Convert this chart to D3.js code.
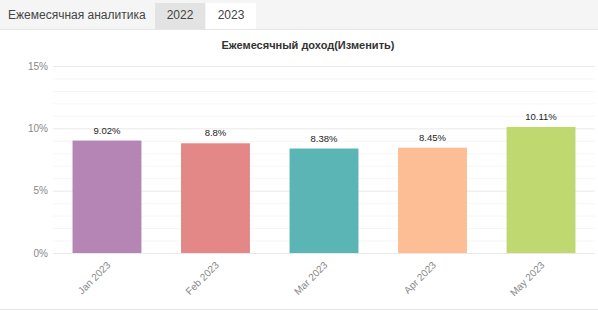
<!DOCTYPE html>
<html lang="ru">
<head>
    <meta charset="UTF-8">
    <title>Ежемесячный доход</title>
    <script src="https://d3js.org/d3.v7.min.js"></script>
    <style>
        body {
            margin: 0;
            font-family: Arial, "Liberation Sans", sans-serif;
            background: #fff;
            width: 598px;
            height: 312px;
            overflow: hidden;
        }
        .tabs {
            height: 29px;
            background: #f5f5f5;
            border-bottom: 1px solid #e6e6e6;
            position: relative;
        }
        .tab {
            position: absolute;
            top: 3px;
            height: 26px;
            line-height: 25px;
            font-size: 12px;
            color: #444;
        }
        #chart svg { display: block; }
    </style>
</head>
<body>
    <div class="tabs">
        <div class="tab" style="left:8px;">Ежемесячная аналитика</div>
        <div class="tab" style="left:155px;width:50px;background:#e3e3e3;text-align:center;">2022</div>
        <div class="tab" style="left:206px;width:50px;background:#fff;text-align:center;">2023</div>
    </div>
    <div id="chart"></div>
    <script>
        const months = ['Jan 2023', 'Feb 2023', 'Mar 2023', 'Apr 2023', 'May 2023'];
        const income = [9.02, 8.8, 8.38, 8.45, 10.11];
        const valueLabels = ['9.02%', '8.8%', '8.38%', '8.45%', '10.11%'];
        const barColors = ['#b586b5', '#e38887', '#5bb5b4', '#fdbe95', '#bfd870'];
        const yTicks = [0, 5, 10, 15];

        const width = 598;
        const height = 282;
        const margin = { top: 36, right: 3, bottom: 59, left: 53 };

        const svg = d3.select('#chart')
            .append('svg')
            .attr('width', width)
            .attr('height', height);

        svg.append('text')
            .attr('x', 308)
            .attr('y', 19)
            .attr('text-anchor', 'middle')
            .style('font-size', '11px')
            .style('font-weight', 'bold')
            .style('fill', '#333')
            .text('Ежемесячный доход(Изменить)');

        const g = svg.append('g')
            .attr('transform', `translate(${margin.left},${margin.top})`);

        const innerW = width - margin.left - margin.right;
        const innerH = height - margin.top - margin.bottom;

        const x = d3.scaleBand().domain(months).range([0, innerW]).paddingInner(0.365).paddingOuter(0.18);
        const y = d3.scaleLinear().domain([0, 15]).range([innerH, 0]);

        // minor gridlines every 1%
        g.append('g')
            .selectAll('line')
            .data(d3.range(1, 15).filter(d => d % 5 !== 0))
            .enter().append('line')
            .attr('x1', 0).attr('x2', innerW)
            .attr('y1', d => y(d) + 0.5).attr('y2', d => y(d) + 0.5)
            .attr('stroke', '#f6f6f6');

        const yAxis = g.append('g')
            .call(d3.axisLeft(y).tickValues(yTicks).tickSize(-innerW).tickFormat(d => d + '%'));
        yAxis.select('.domain').remove();
        yAxis.selectAll('line').attr('stroke', '#e9e9e9');
        yAxis.selectAll('text')
            .attr('x', -5)
            .style('font-size', '10px')
            .style('fill', '#888')
            .style('font-family', 'Arial, sans-serif');

        g.selectAll('.bar')
            .data(months)
            .enter().append('rect')
            .attr('class', 'bar')
            .attr('x', d => x(d))
            .attr('width', x.bandwidth())
            .attr('y', (d, i) => y(income[i]))
            .attr('height', (d, i) => innerH - y(income[i]))
            .attr('fill', (d, i) => barColors[i]);

        g.selectAll('.val')
            .data(months)
            .enter().append('text')
            .attr('class', 'val')
            .attr('x', d => x(d) + x.bandwidth() / 2)
            .attr('y', (d, i) => y(income[i]) - 7)
            .attr('text-anchor', 'middle')
            .style('font-size', '9.5px')
            .style('font-family', 'Arial, sans-serif')
            .style('fill', '#222')
            .text((d, i) => valueLabels[i]);

        const xAxis = g.append('g')
            .attr('transform', `translate(0,${innerH})`)
            .call(d3.axisBottom(x).tickSize(0));
        xAxis.select('.domain').remove();
        xAxis.selectAll('text')
            .attr('transform', 'rotate(-45)')
            .attr('text-anchor', 'end')
            .attr('dx', '-0.6em')
            .attr('dy', '0.9em')
            .style('font-size', '10px')
            .style('fill', '#888')
            .style('font-family', 'Arial, sans-serif');

        svg.append('line')
            .attr('x1', 0).attr('x2', width)
            .attr('y1', 279.5).attr('y2', 279.5)
            .attr('stroke', '#e6e6e6');
    </script>
</body>
</html>
